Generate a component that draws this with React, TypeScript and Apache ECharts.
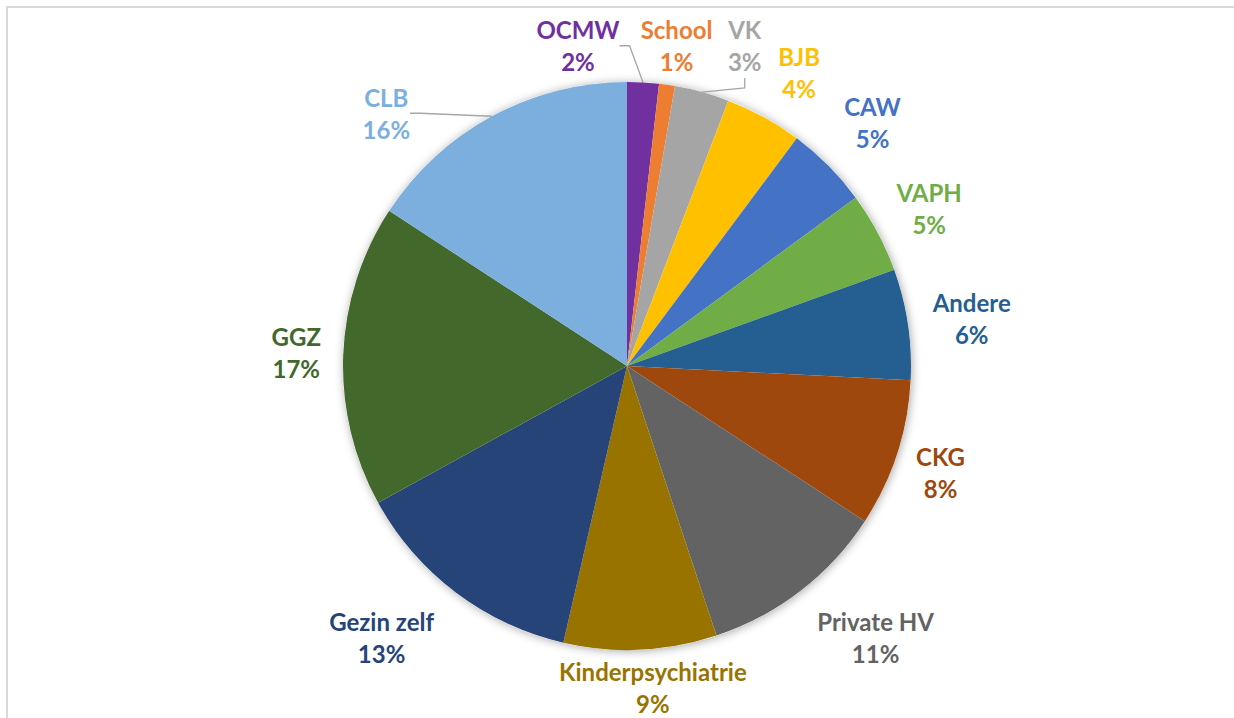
import React, { useEffect, useRef } from "react";
import * as echarts from "echarts";

const categories = [
  "OCMW", "School", "VK", "BJB", "CAW", "VAPH", "Andere", "CKG",
  "Private HV", "Kinderpsychiatrie", "Gezin zelf", "GGZ", "CLB",
];
const values = [1.8, 0.9, 3.1, 4.4, 4.7, 4.6, 6.3, 8.4, 10.7, 8.7, 13.4, 17.2, 15.8];
const colors = [
  "#7030A0", "#ED7D31", "#A5A5A5", "#FFC000", "#4472C4", "#70AD47", "#255E91",
  "#9E480E", "#636363", "#997300", "#264478", "#43682B", "#7CAFDD",
];
const withLeader = ["OCMW", "VK", "CLB"];
// label placement: [angle clockwise from top (deg), distance from centre (px)]
const labelPolar: [number, number][] = [
  [-8.7, 324], [8.8, 324], [20.2, 341], [30.4, 340], [45.2, 346], [62.4, 341],
  [82.1, 348], [108.7, 331], [137.5, 368], [175.4, 323], [222.1, 366], [272.3, 331], [316.4, 349],
];

const CX = 627;
const CY = 366;
const R = 284;

export default function App() {
  const ref = useRef<HTMLDivElement>(null);
  useEffect(() => {
    if (!ref.current) return;
    const chart = echarts.init(ref.current, undefined, { renderer: "svg" });
    const data = categories.map((name, i) => ({
      name,
      value: values[i],
      itemStyle: { color: colors[i] },
      label: { color: colors[i] },
      labelLine: { show: withLeader.includes(name) },
    }));
    chart.setOption({
      animation: false,
      backgroundColor: "#ffffff",
      graphic: [
        {
          type: "polyline",
          shape: { points: [[7, 718], [7, 7], [1234, 7]] },
          style: { stroke: "#d9d9d9", lineWidth: 2, fill: "none" },
          silent: true,
        },
      ],
      series: [
        {
          type: "pie",
          silent: true,
          center: [CX, CY],
          radius: [0, R],
          data: [{ value: 1, name: "" }],
          itemStyle: {
            color: "#ffffff",
            shadowBlur: 10,
            shadowColor: "rgba(0,0,0,0.35)",
            shadowOffsetX: 1,
            shadowOffsetY: 1,
          },
          label: { show: false },
          labelLine: { show: false },
          z: 1,
        },
        {
          type: "pie",
          z: 2,
          center: [CX, CY],
          radius: [0, R],
          startAngle: 90,
          clockwise: true,
          avoidLabelOverlap: false,
          data,
          itemStyle: { borderWidth: 0 },
          label: {
            show: true,
            position: "outside",
            fontFamily: "Lato",
            fontWeight: "bold",
            fontSize: 24,
            lineHeight: 32,
            align: "center",
            formatter: (p: any) => `${p.name}\n${Math.round(p.percent)}%`,
          },
          labelLine: {
            length: 10,
            length2: 10,
            lineStyle: { color: "#a6a6a6", width: 1.3 },
          },
          labelLayout: (p: any) => {
            const [ang, dist] = labelPolar[p.dataIndex];
            const a = (ang * Math.PI) / 180;
            return {
              x: CX + dist * Math.sin(a),
              y: CY - dist * Math.cos(a),
              align: "center",
              verticalAlign: "middle",
            };
          },
        },
      ],
    });
    return () => chart.dispose();
  }, []);
  return (
    <div
      ref={ref}
      style={{ position: "absolute", left: 0, top: 0, width: 1234, height: 718 }}
    />
  );
}
